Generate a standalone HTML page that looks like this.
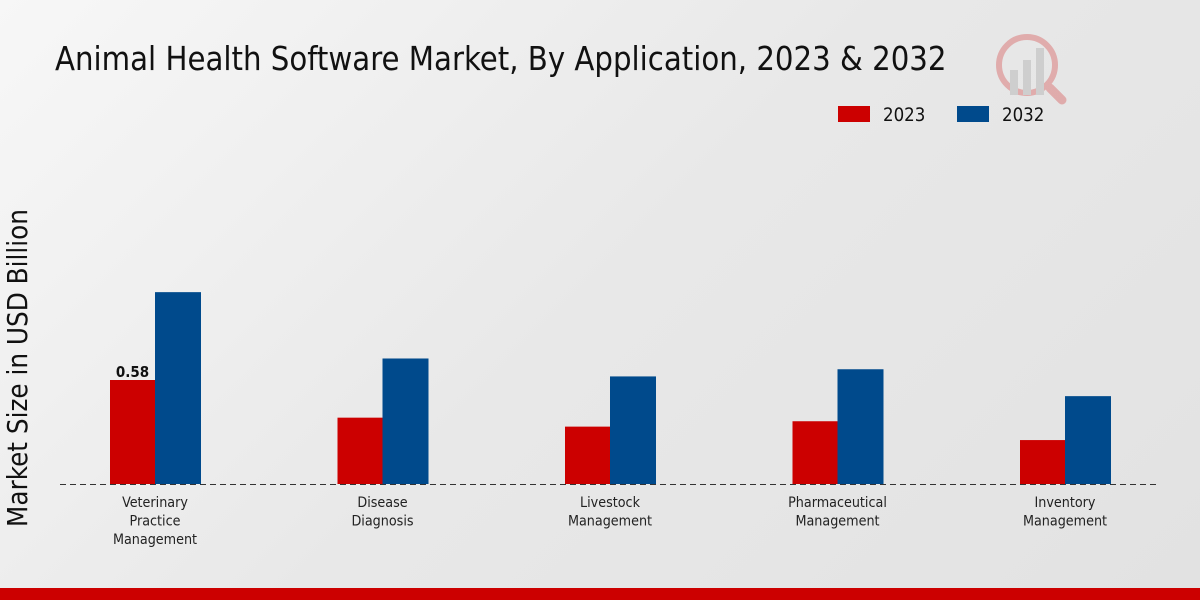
<!DOCTYPE html>
<html><head><meta charset="utf-8"><style>
body{margin:0;width:1200px;height:600px;overflow:hidden;background:linear-gradient(135deg,#f7f7f7 0%,#e8e8e8 50%,#e2e2e2 100%);font-family:"DejaVu Sans Condensed","DejaVu Sans","Liberation Sans",sans-serif;}
svg{position:absolute;left:0;top:0}
</style></head><body>
<svg width="1200" height="600">
<text x="55" y="70" font-size="32.5" fill="#111" style="font-family:'DejaVu Sans Condensed','DejaVu Sans',sans-serif">Animal Health Software Market, By Application, 2023 &amp; 2032</text>
<g>
<rect x="838" y="106" width="32" height="16" fill="#cc0000"/>
<text x="883" y="121" font-size="18.5" fill="#111">2023</text>
<rect x="957" y="106" width="32" height="16" fill="#004a8c"/>
<text x="1002" y="121" font-size="18.5" fill="#111">2032</text>
</g>
<text transform="translate(27,368) rotate(-90)" text-anchor="middle" font-size="27.5" fill="#111">Market Size in USD Billion</text>
<g id="bars"></g>
<line x1="60" y1="484.5" x2="1160" y2="484.5" stroke="#333" stroke-dasharray="6,4" stroke-width="1"/>
<g id="labels"></g>
<rect x="0" y="588" width="1200" height="12" fill="#cc0000"/>
<g opacity="0.25">
<circle cx="1027" cy="65" r="28" fill="none" stroke="#cc0000" stroke-width="6"/>
<rect x="1010" y="70" width="8" height="25" fill="#888"/><rect x="1023" y="60" width="8" height="35" fill="#888"/><rect x="1036" y="48" width="8" height="47" fill="#888"/>
<line x1="1050" y1="88" x2="1062" y2="100" stroke="#cc0000" stroke-width="9" stroke-linecap="round"/>
</g>
</svg>
<script>
const categories=[["Veterinary","Practice","Management"],["Disease","Diagnosis"],["Livestock","Management"],["Pharmaceutical","Management"],["Inventory","Management"]];
const values2023=[0.58,0.37,0.32,0.35,0.245];
const values2032=[1.07,0.70,0.60,0.64,0.49];
const NS="http://www.w3.org/2000/svg";
const baseY=484,scale=179.3,x0=155,step=227.5,bw=45;
const yv=v=>baseY-v*scale, xc=i=>x0+i*step;
const bars=document.getElementById('bars'),labels=document.getElementById('labels');
function mk(t,a){const e=document.createElementNS(NS,t);for(const k in a)e.setAttribute(k,a[k]);return e;}
categories.forEach((c,i)=>{
 const r1=mk('rect',{x:xc(i)-bw,y:yv(values2023[i]),width:bw,height:values2023[i]*scale,fill:'#cc0000'});
 
 
 bars.appendChild(r1);
 const r2=mk('rect',{x:xc(i),y:yv(values2032[i]),width:bw+1,height:values2032[i]*scale,fill:'#004a8c'});
 
 
 bars.appendChild(r2);
 const t=mk('text',{x:xc(i),y:507,'text-anchor':'middle','font-size':14.2,fill:'#222'});
 
 
 c.forEach((l,j)=>{const s=mk('tspan',{x:xc(i),dy:j?18.5:0});s.textContent=l;t.appendChild(s);});
 labels.appendChild(t);
});
const vl=mk('text',{x:xc(0)-bw/2,y:yv(values2023[0])-3,'text-anchor':'middle','font-size':15,'font-weight':'bold',fill:'#111'});


vl.textContent=values2023[0].toFixed(2);
labels.appendChild(vl);
</script>
</body></html>
